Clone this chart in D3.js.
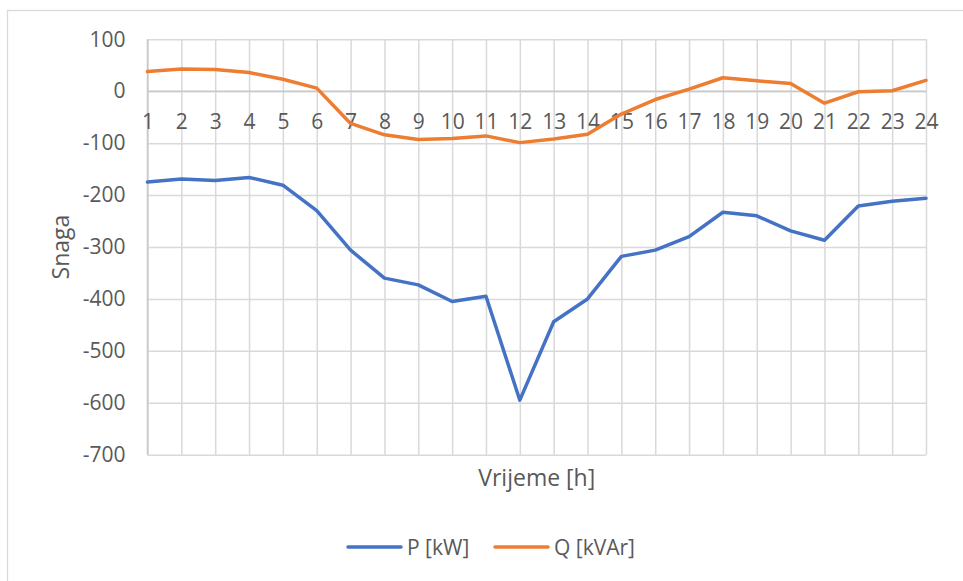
<!DOCTYPE html>
<html>
<head>
<meta charset="utf-8">
<script src="https://cdn.jsdelivr.net/npm/d3@7"></script>
<style>
  body { margin: 0; background: #fff; }
  text { font-family: "Open Sans", "Noto Sans", sans-serif; fill: #595959; }
</style>
</head>
<body>
<div id="chart"></div>
<script>
// hours on the category axis
var hours = d3.range(1, 25);
// active power P [kW]
var pValues = [-175, -169, -172, -166, -181, -230, -306, -360, -373, -405, -395, -595,
               -444, -400, -318, -306, -280, -233, -240, -269, -287, -221, -212, -206];
// reactive power Q [kVAr]
var qValues = [38, 43, 42, 36, 23, 6, -62, -84, -93, -91, -86, -99,
               -92, -83, -44, -16, 4, 26, 20, 15, -23, -1, 1, 21];
var yTicks = [100, 0, -100, -200, -300, -400, -500, -600, -700];
var seriesNames = ["P [kW]", "Q [kVAr]"];
var colors = ["#4472C4", "#ED7D31"];

var W = 963, H = 581;
// plot area (note: "top" is reserved on window, so use other names)
var plotL = 147.5, plotR = 926, plotT = 39.3, plotB = 454.7;
var tickFont = "21px", titleFont = "23px";

var svg = d3.select("#chart").append("svg")
    .attr("width", W)
    .attr("height", H);

// chart border
svg.append("rect")
    .attr("x", 7.5).attr("y", 10.5)
    .attr("width", W).attr("height", H)
    .attr("fill", "none")
    .attr("stroke", "#D9D9D9")
    .attr("stroke-width", 1.3);

var x = d3.scalePoint().domain(hours).range([plotL, plotR]).padding(0);
var y = d3.scaleLinear().domain([-700, 100]).range([plotB, plotT]);

// horizontal gridlines + value labels (plain hyphen, like Excel)
var yAxis = d3.axisLeft(y)
    .tickValues(yTicks)
    .tickSize(-(plotR - plotL))
    .tickPadding(22)
    .tickFormat(function(d) { return String(d); });

var gy = svg.append("g")
    .attr("transform", "translate(" + plotL + ",0)")
    .call(yAxis);
gy.select(".domain").remove();
gy.selectAll("line").attr("stroke", "#D9D9D9").attr("stroke-width", 1.5);
gy.selectAll("text")
    .attr("fill", "#595959")
    .style("font-size", tickFont)
    .style("font-family", "'Open Sans', sans-serif");

// vertical gridlines
var gx = svg.append("g")
    .attr("transform", "translate(0," + plotB + ")")
    .call(d3.axisBottom(x).tickSize(-(plotB - plotT)).tickFormat(""));
gx.select(".domain").remove();
gx.selectAll("line").attr("stroke", "#D9D9D9").attr("stroke-width", 1.5);

// axis lines (left edge and zero line)
svg.append("line")
    .attr("x1", plotL).attr("x2", plotL)
    .attr("y1", plotT).attr("y2", plotB)
    .attr("stroke", "#C8C8C8").attr("stroke-width", 1.5);
svg.append("line")
    .attr("x1", plotL).attr("x2", plotR)
    .attr("y1", y(0)).attr("y2", y(0))
    .attr("stroke", "#C8C8C8").attr("stroke-width", 1.5);

// category labels sitting under the zero line
var gc = svg.append("g")
    .attr("transform", "translate(0," + y(0) + ")")
    .call(d3.axisBottom(x).tickSize(0).tickPadding(23));
gc.select(".domain").remove();
gc.selectAll("text")
    .attr("fill", "#595959")
    .style("font-size", tickFont)
    .style("font-family", "'Open Sans', sans-serif");

// lines
var line = d3.line()
    .x(function(d, i) { return x(hours[i]); })
    .y(function(d) { return y(d); });

[pValues, qValues].forEach(function(vals, i) {
  svg.append("path")
      .datum(vals)
      .attr("fill", "none")
      .attr("stroke", colors[i])
      .attr("stroke-width", 3.5)
      .attr("stroke-linejoin", "round")
      .attr("stroke-linecap", "round")
      .attr("d", line);
});

// axis titles
svg.append("text")
    .attr("x", (plotL + plotR) / 2)
    .attr("y", 486)
    .attr("text-anchor", "middle")
    .attr("fill", "#595959")
    .style("font-size", titleFont)
    .text("Vrijeme [h]");

svg.append("text")
    .attr("transform", "translate(69," + ((plotT + plotB) / 2) + ") rotate(-90)")
    .attr("text-anchor", "middle")
    .attr("fill", "#595959")
    .style("font-size", titleFont)
    .text("Snaga");

// legend
var legendX = [348, 495];
seriesNames.forEach(function(name, i) {
  var g = svg.append("g").attr("transform", "translate(" + legendX[i] + ",547)");
  g.append("line")
      .attr("x1", 0).attr("x2", 53)
      .attr("stroke", colors[i])
      .attr("stroke-width", 3.5)
      .attr("stroke-linecap", "round");
  g.append("text")
      .attr("x", 59)
      .attr("y", 8)
      .attr("fill", "#595959")
      .style("font-size", tickFont)
      .text(name);
});
</script>
</body>
</html>
